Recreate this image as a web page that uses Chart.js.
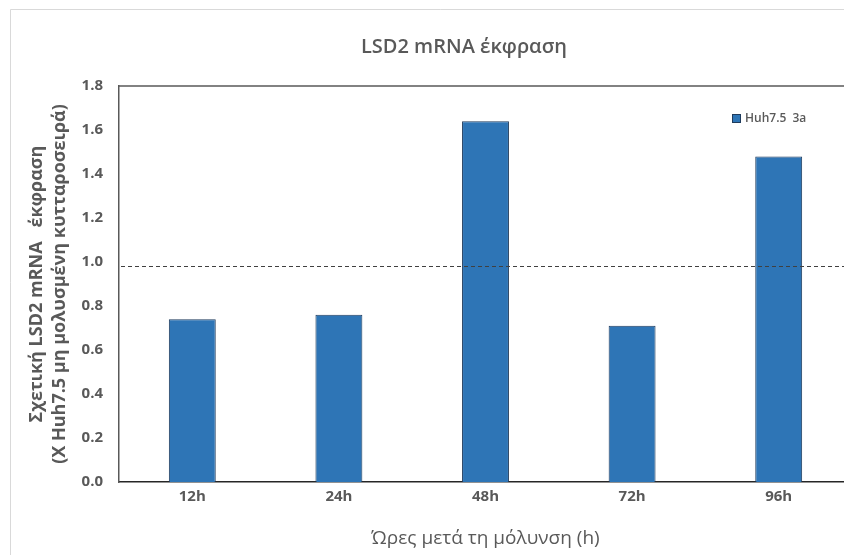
<!DOCTYPE html>
<html>
<head>
<meta charset="utf-8">
<script src="https://cdn.jsdelivr.net/npm/chart.js@4.4.1/dist/chart.umd.min.js"></script>
<style>
  html, body { margin: 0; padding: 0; background: #fff; overflow: hidden; }
  #wrap { width: 844px; height: 555px; overflow: hidden; }
</style>
</head>
<body>
<div id="wrap"><canvas id="chart" width="870" height="555"></canvas></div>
<script>
const hours = ["12h", "24h", "48h", "72h", "96h"];
const huh75_3a = [0.74, 0.76, 1.64, 0.71, 1.48];
const refLevel = 0.98;
const yTicks = [0.0, 0.2, 0.4, 0.6, 0.8, 1.0, 1.2, 1.4, 1.6, 1.8];
const chartTitle = "LSD2 mRNA έκφραση";

const grey = "#595959";
const font = "'Open Sans', 'Noto Sans', sans-serif";

// light frame round the whole chart + title
const framePlugin = {
  id: "frame",
  beforeDraw(chart) {
    const ctx = chart.ctx;
    ctx.save();
    ctx.fillStyle = "#fff";
    ctx.fillRect(0, 0, chart.width, chart.height);
    ctx.strokeStyle = "#d9d9d9";
    ctx.lineWidth = 1;
    ctx.beginPath();
    ctx.moveTo(10.5, chart.height);
    ctx.lineTo(10.5, 9.5);
    ctx.lineTo(chart.width, 9.5);
    ctx.stroke();

    // title sits a bit left of the plot centre, as in the original
    ctx.fillStyle = grey;
    ctx.font = "600 20px " + font;
    ctx.textAlign = "center";
    ctx.textBaseline = "middle";
    ctx.fillText(chartTitle, 464, 47);
    ctx.restore();
  }
};

// dashed reference line + box + legend
const extrasPlugin = {
  id: "extras",
  afterDatasetsDraw(chart) {
    const ctx = chart.ctx;
    const a = chart.chartArea;
    const y = Math.round(chart.scales.y.getPixelForValue(refLevel)) + 0.5;
    ctx.save();
    ctx.strokeStyle = "#404040";
    ctx.lineWidth = 1;
    ctx.setLineDash([4, 3]);
    ctx.beginPath();
    ctx.moveTo(a.left + 2, y);
    ctx.lineTo(a.right, y);
    ctx.stroke();
    ctx.setLineDash([]);

    // top border of the plot box
    ctx.strokeStyle = grey;
    ctx.lineWidth = 1.5;
    ctx.beginPath();
    ctx.moveTo(a.left, a.top);
    ctx.lineTo(a.right, a.top);
    ctx.stroke();

    // legend
    const ds = chart.data.datasets[0];
    ctx.fillStyle = ds.backgroundColor;
    ctx.strokeStyle = ds.borderColor;
    ctx.lineWidth = 1;
    ctx.fillRect(732, 114, 8, 8);
    ctx.strokeRect(732.5, 114.5, 8, 8);
    ctx.fillStyle = grey;
    ctx.font = "600 12px " + font;
    ctx.textBaseline = "middle";
    ctx.fillText(ds.label, 745, 118.5);
    ctx.restore();
  }
};

new Chart(document.getElementById("chart"), {
  type: "bar",
  data: {
    labels: hours,
    datasets: [{
      label: "Huh7.5  3a",
      data: huh75_3a,
      backgroundColor: "#2e75b6",
      borderColor: "#1f3b5c",
      borderWidth: 1,
      barPercentage: 0.64,
      categoryPercentage: 0.5
    }]
  },
  options: {
    responsive: false,
    devicePixelRatio: 1,
    animation: false,
    layout: { padding: { left: 26, right: 18, top: 86, bottom: 5 } },
    plugins: {
      legend: { display: false },
      tooltip: { enabled: false },
      title: { display: false }
    },
    scales: {
      x: {
        grid: { display: false, drawTicks: false },
        border: { color: "#262626", width: 1.5 },
        ticks: { color: grey, padding: 6, font: { family: font, size: 15, weight: "bold" } },
        title: {
          display: true,
          text: "Ώρες μετά τη μόλυνση (h)",
          color: grey,
          font: { family: font, size: 19 },
          padding: { top: 3, bottom: 0 }
        },
        afterFit(scale) { scale.height = 68; }
      },
      y: {
        min: 0,
        max: 1.8,
        afterBuildTicks(scale) { scale.ticks = yTicks.map(v => ({ value: v })); },
        grid: { display: false, drawTicks: false },
        border: { color: grey, width: 1.5 },
        ticks: {
          color: grey,
          padding: 16,
          font: { family: font, size: 15, weight: "bold" },
          callback: v => Number(v).toFixed(1)
        },
        title: {
          display: true,
          text: ["Σχετική LSD2 mRNA   έκφραση", "(Χ Huh7.5 μη μολυσμένη κυτταροσειρά)"],
          color: grey,
          font: { family: font, size: 18, weight: "bold", lineHeight: 1.25 },
          padding: { top: 0, bottom: 0 }
        },
        afterFit(scale) { scale.width = 93; }
      }
    }
  },
  plugins: [framePlugin, extrasPlugin]
});
</script>
</body>
</html>
